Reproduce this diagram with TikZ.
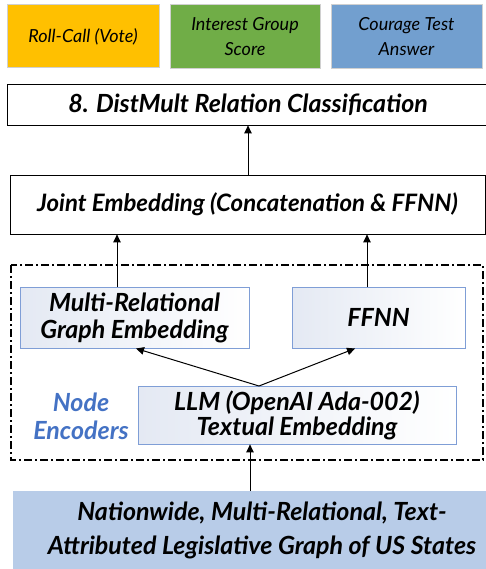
\documentclass[tikz,border=0pt]{standalone}
\usepackage{fontspec}
\setmainfont{Lato}
\usetikzlibrary{arrows.meta}
\definecolor{cgold}{HTML}{FFC000}
\definecolor{cgreen}{HTML}{70AD47}
\definecolor{cblue}{HTML}{729FCF}
\definecolor{cborder}{HTML}{D0D0D0}
\definecolor{encborder}{HTML}{7F9ED6}
\definecolor{encfill}{HTML}{E4E9F3}
\definecolor{basefill}{HTML}{B8CCE8}
\definecolor{enctext}{HTML}{4472C4}
\newcommand{\fsz}[2]{\fontsize{#1}{#2}\selectfont}
\tikzset{
  topbox/.style={draw=cborder, line width=1pt, inner sep=0pt, align=center, font=\fsz{18}{25}\itshape},
  whitebox/.style={draw=black, line width=0.8pt, fill=white, inner sep=0pt, align=center, font=\fsz{25}{30}\bfseries\itshape},
  encbox/.style={draw=encborder, line width=0.8pt, left color=encfill, right color=white, inner sep=0pt, align=center, font=\fsz{25}{27}\bfseries\itshape},
  arr/.style={-{Triangle[width=7.5pt,length=8pt]}, line width=1pt},
}
\begin{document}
\begin{tikzpicture}[x=1pt,y=-1pt]
\useasboundingbox (0,0) rectangle (486,569);
% top label boxes
\node[topbox, fill=cgold, minimum width=152pt, minimum height=63pt] (roll) at (83,36.5) {Roll-Call (Vote)};
\node[topbox, fill=cgreen, minimum width=150pt, minimum height=64pt] (interest) at (245,37) {Interest Group\\Score};
\node[topbox, fill=cblue, minimum width=151pt, minimum height=64pt] (courage) at (406.5,37) {Courage Test\\Answer};
% DistMult
\node[whitebox, minimum width=482pt, minimum height=41pt] (dist) at (248,104.5) {8. DistMult Relation Classification};
% Joint
\node[whitebox, font=\fsz{24}{30}\bfseries\itshape, minimum width=475pt, minimum height=59pt] (joint) at (247.5,204.5) {Joint Embedding (Concatenation \& FFNN)};
% dash-dot encoder frame
\draw[line width=1.1pt, dash pattern=on 8pt off 3pt on 2pt off 3pt] (11,265) rectangle (483,460);
% encoders
\node[encbox, minimum width=229pt, minimum height=61pt] (mrg) at (134.5,317.5) {Multi-Relational\\Graph Embedding};
\node[encbox, minimum width=173pt, minimum height=61pt] (ffnn) at (378.5,317.5) {FFNN};
\node[encbox, font=\fsz{25}{25}\bfseries\itshape, minimum width=318pt, minimum height=58pt] (llm) at (297,415) {LLM (OpenAI Ada-002)\\Textual Embedding};
\node[font=\fsz{25}{28}\bfseries\itshape, text=enctext, align=center] (enc) at (81,416) {Node\\Encoders};
% base
\fill[basefill] (13,491) rectangle (486,569);
\node[minimum width=467pt, minimum height=80pt, inner sep=0pt, align=center, font=\fsz{25}{34}\bfseries\itshape] (base) at (262,530) {Nationwide, Multi-Relational, Text-\\Attributed Legislative Graph of US States};
% arrows
\draw[arr] (joint.north -| dist.south) -- (dist.south);
\draw[arr] (117,287) coordinate (m1) -- (m1 |- joint.south);
\draw[arr] (367,287) coordinate (f1) -- (f1 |- joint.south);
\draw[arr] (259,386) coordinate (l1) -- (136,348.5);
\draw[arr] (l1) -- (355,348.5);
\draw[arr] (250,491) coordinate (b1) -- (b1 |- llm.south);
\end{tikzpicture}
\end{document}
